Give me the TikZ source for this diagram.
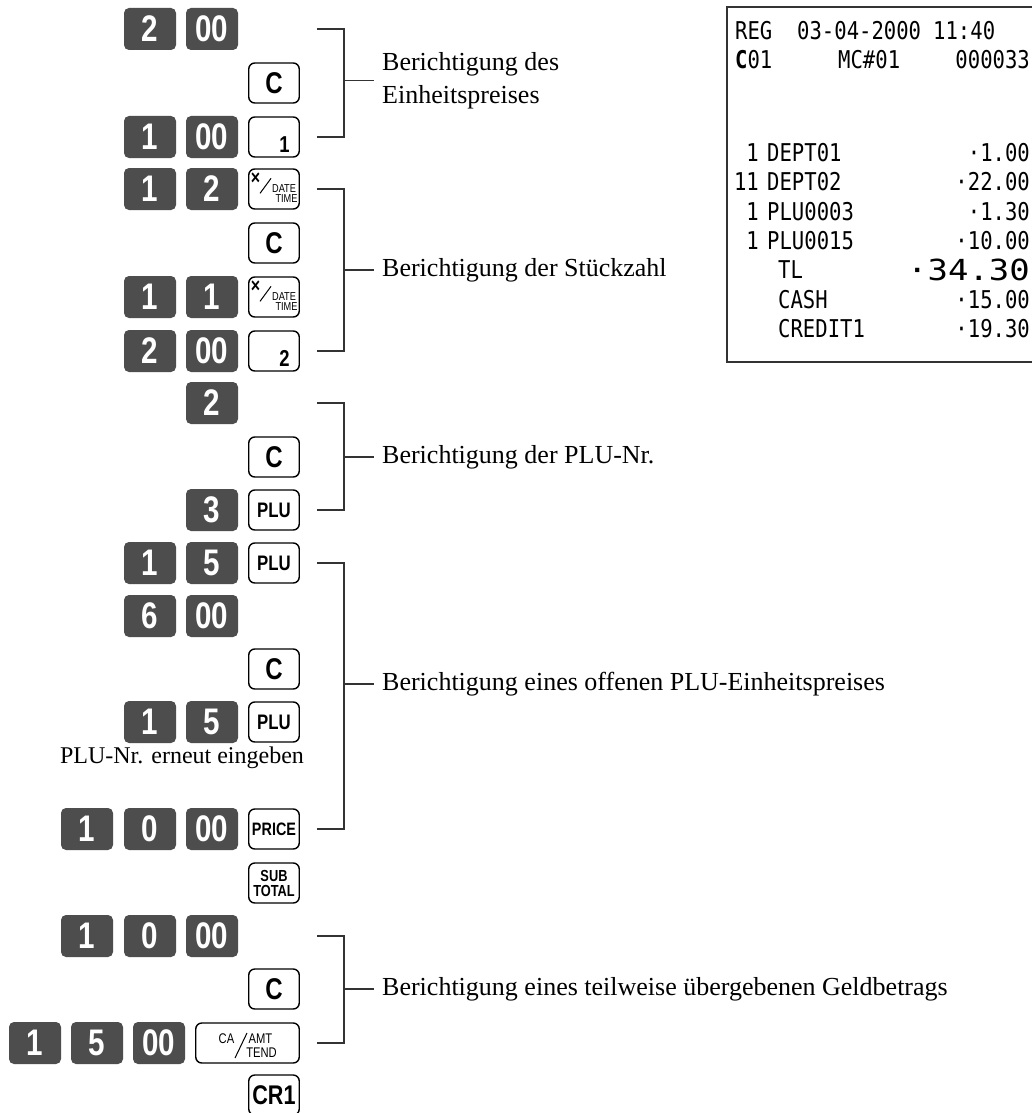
\documentclass[tikz,border=0pt]{standalone}
\usepackage{fontspec}
\setmainfont{Liberation Serif}
\newfontfamily\keyfont{Liberation Sans}[FakeStretch=0.8]
\newfontfamily\rcfont{DejaVu Sans Mono}[FakeStretch=0.84]
\newfontfamily\rcbig{DejaVu Sans Mono}[FakeStretch=1.17]
\definecolor{keygray}{HTML}{4D4D4D}
\definecolor{linegray}{HTML}{333333}
\newcommand\kfs[1]{\keyfont\bfseries\fontsize{#1}{#1}\selectfont}
\newcommand\kfr[1]{\keyfont\fontsize{#1}{#1}\selectfont}
\tikzset{
  dkey/.style={rectangle, rounded corners=5pt, fill=keygray, minimum width=52pt, minimum height=42pt,
    inner sep=0pt, text=white, font=\kfs{37}},
  wkey/.style={rectangle, rounded corners=6pt, draw=black, line width=1.4pt, fill=white,
    minimum width=50.5pt, minimum height=40pt, inner sep=0pt, font=\kfs{30}},
  sub/.style={inner sep=0pt},
  brk/.style={draw=linegray, line width=1.3pt},
  lab/.style={anchor=west, inner sep=0pt, font=\fontsize{26}{33}\selectfont, align=left},
  rc/.style={anchor=base west, inner sep=0pt, font=\rcfont\fontsize{24.5}{24.5}\selectfont},
  rce/.style={anchor=base east, inner sep=0pt, font=\rcfont\fontsize{24.5}{24.5}\selectfont},
}
\newcommand\xdkey[3]{%
  \node[wkey] (#1) at (#2,#3) {};
  \node[sub, font=\kfs{20}] (#1x) at ([shift={(7.5,10)}]#1.north west) {×};
  \draw[line width=1pt] ([shift={(12,25)}]#1.north west) -- ([shift={(23,10)}]#1.north west);
  \node[sub, font=\kfr{11.5}] (#1d) at ([shift={(36,20.5)}]#1.north west) {DATE};
  \node[sub, font=\kfr{11.5}] (#1t) at ([shift={(38.5,30.5)}]#1.north west) {TIME};
}
\newcommand\numkey[4]{%
  \node[wkey] (#1) at (#2,#3) {};
  \node[sub, font=\kfs{23}] (#1n) at ([shift={(10.5,7.5)}]#1.center) {#4};
}
\begin{document}
\begin{tikzpicture}[x=1pt,y=-1pt]
\useasboundingbox[fill=white] (0,0) rectangle (1032,1113);

% ---------- keys ----------
\node[dkey] (r0a) at (150,29) {2};
\node[dkey] (r0b) at (212,29) {00};
\node[wkey] (r1c) at (274,83) {C};
\node[dkey] (r2a) at (150,137) {1};
\node[dkey] (r2b) at (212,137) {00};
\numkey{r2c}{274}{137}{1}
\node[dkey] (r3a) at (150,189) {1};
\node[dkey] (r3b) at (212,189) {2};
\xdkey{r3c}{274}{189}
\node[wkey] (r4c) at (274,243) {C};
\node[dkey] (r5a) at (150,297) {1};
\node[dkey] (r5b) at (212,297) {1};
\xdkey{r5c}{274}{297}
\node[dkey] (r6a) at (150,351) {2};
\node[dkey] (r6b) at (212,351) {00};
\numkey{r6c}{274}{351}{2}
\node[dkey] (r7b) at (212,403) {2};
\node[wkey] (r8c) at (274,457) {C};
\node[dkey] (r9b) at (212,510) {3};
\node[wkey, font=\kfs{21}] (r9c) at (274,510) {PLU};
\node[dkey] (r10a) at (150,563) {1};
\node[dkey] (r10b) at (212,563) {5};
\node[wkey, font=\kfs{21}] (r10c) at (274,563) {PLU};
\node[dkey] (r11a) at (150,616) {6};
\node[dkey] (r11b) at (212,616) {00};
\node[wkey] (r12c) at (274,669) {C};
\node[dkey] (r13a) at (150,722) {1};
\node[dkey] (r13b) at (212,722) {5};
\node[wkey, font=\kfs{21}] (r13c) at (274,722) {PLU};
\node[inner sep=0pt, font=\fontsize{24}{24}\selectfont] (note) at (182,758) {PLU-Nr. erneut eingeben};
\node[dkey] (r14a) at (87,829) {1};
\node[dkey] (r14b) at (150,829) {0};
\node[dkey] (r14c) at (212,829) {00};
\node[wkey, font=\kfs{18}] (r14d) at (274,829) {PRICE};
\node[wkey, font=\kfs{16}, align=center] (r15d) at (274,883) {SUB\\[-1pt]TOTAL};
\node[dkey] (r16a) at (87,936) {1};
\node[dkey] (r16b) at (150,936) {0};
\node[dkey] (r16c) at (212,936) {00};
\node[wkey] (r17d) at (274,989) {C};
\node[dkey] (r18a) at (35,1043) {1};
\node[dkey] (r18b) at (97,1043) {5};
\node[dkey] (r18c) at (159,1043) {00};
\node[wkey, minimum width=103.5pt] (r18d) at (247.5,1043) {};
\node[sub, font=\kfr{14}] (r18ca) at ([shift={(-21,-4)}]r18d.center) {CA};
\draw[line width=1pt] ([shift={(-12.5,15)}]r18d.center) -- ([shift={(-0.5,-10)}]r18d.center);
\node[sub, font=\kfr{14}] (r18amt) at ([shift={(13,-4.5)}]r18d.center) {AMT};
\node[sub, font=\kfr{14}] (r18tend) at ([shift={(14,9.5)}]r18d.center) {TEND};
\node[wkey, font=\kfs{27}] (r19d) at (274,1095) {CR1};

% ---------- brackets ----------
\node[lab] (lab1) at (382,80.5) {Berichtigung des\\Einheitspreises};
\node[lab] (lab2) at (382,270) {Berichtigung der Stückzahl};
\node[lab] (lab3) at (382,457) {Berichtigung der PLU-Nr.};
\node[lab] (lab4) at (382,684) {Berichtigung eines offenen PLU-Einheitspreises};
\node[lab] (lab5) at (382,989) {Berichtigung eines teilweise übergebenen Geldbetrags};

\draw[brk] (317,29) -- (344,29) -- (344,137) -- (317,137);
\draw[brk, shorten >=8pt] (344,80.5) -- (lab1.west);
\draw[brk] (317,189) -- (344,189) -- (344,351) -- (317,351);
\draw[brk, shorten >=8pt] (344,270) -- (lab2.west);
\draw[brk] (317,403) -- (344,403) -- (344,510) -- (317,510);
\draw[brk, shorten >=8pt] (344,457) -- (lab3.west);
\draw[brk] (317,563) -- (344,563) -- (344,829) -- (317,829);
\draw[brk, shorten >=8pt] (344,684) -- (lab4.west);
\draw[brk] (317,936) -- (344,936) -- (344,1043) -- (317,1043);
\draw[brk, shorten >=8pt] (344,989) -- (lab5.west);

% ---------- receipt ----------
\begin{scope}
\clip (0,0) rectangle (1032,1113);
\draw[draw=linegray, line width=1.5pt] (727,7) rectangle (1045,362);
\node[rc] (t1a) at (735,40) {REG};
\node[rc] (t1b) at (797,40) {03-04-2000};
\node[rc] (t1c) at (933,40) {11:40};
\node[rc] (t2a) at (735,69) {{\bfseries C}01};
\node[rc] (t2b) at (838,69) {MC\#01};
\node[rce] (t2c) at (1030,69) {000033};
\node[rce] (q1) at (759,161) {1};
\node[rc] (n1) at (767,161) {DEPT01};
\node[rce] (a1) at (1030,161) {·1.00};
\node[rce] (q2) at (759,190) {11};
\node[rc] (n2) at (767,190) {DEPT02};
\node[rce] (a2) at (1030,190) {·22.00};
\node[rce] (q3) at (759,220) {1};
\node[rc] (n3) at (767,220) {PLU0003};
\node[rce] (a3) at (1030,220) {·1.30};
\node[rce] (q4) at (759,249) {1};
\node[rc] (n4) at (767,249) {PLU0015};
\node[rce] (a4) at (1030,249) {·10.00};
\node[rc] (n5) at (778,278) {TL};
\node[anchor=base east, inner sep=0pt, font=\rcbig\fontsize{29}{29}\selectfont] (a5) at (1030,280) {·34.30};
\node[rc] (n6) at (778,308) {CASH};
\node[rce] (a6) at (1030,308) {·15.00};
\node[rc] (n7) at (778,337) {CREDIT1};
\node[rce] (a7) at (1030,337) {·19.30};
\end{scope}
\end{tikzpicture}
\end{document}
